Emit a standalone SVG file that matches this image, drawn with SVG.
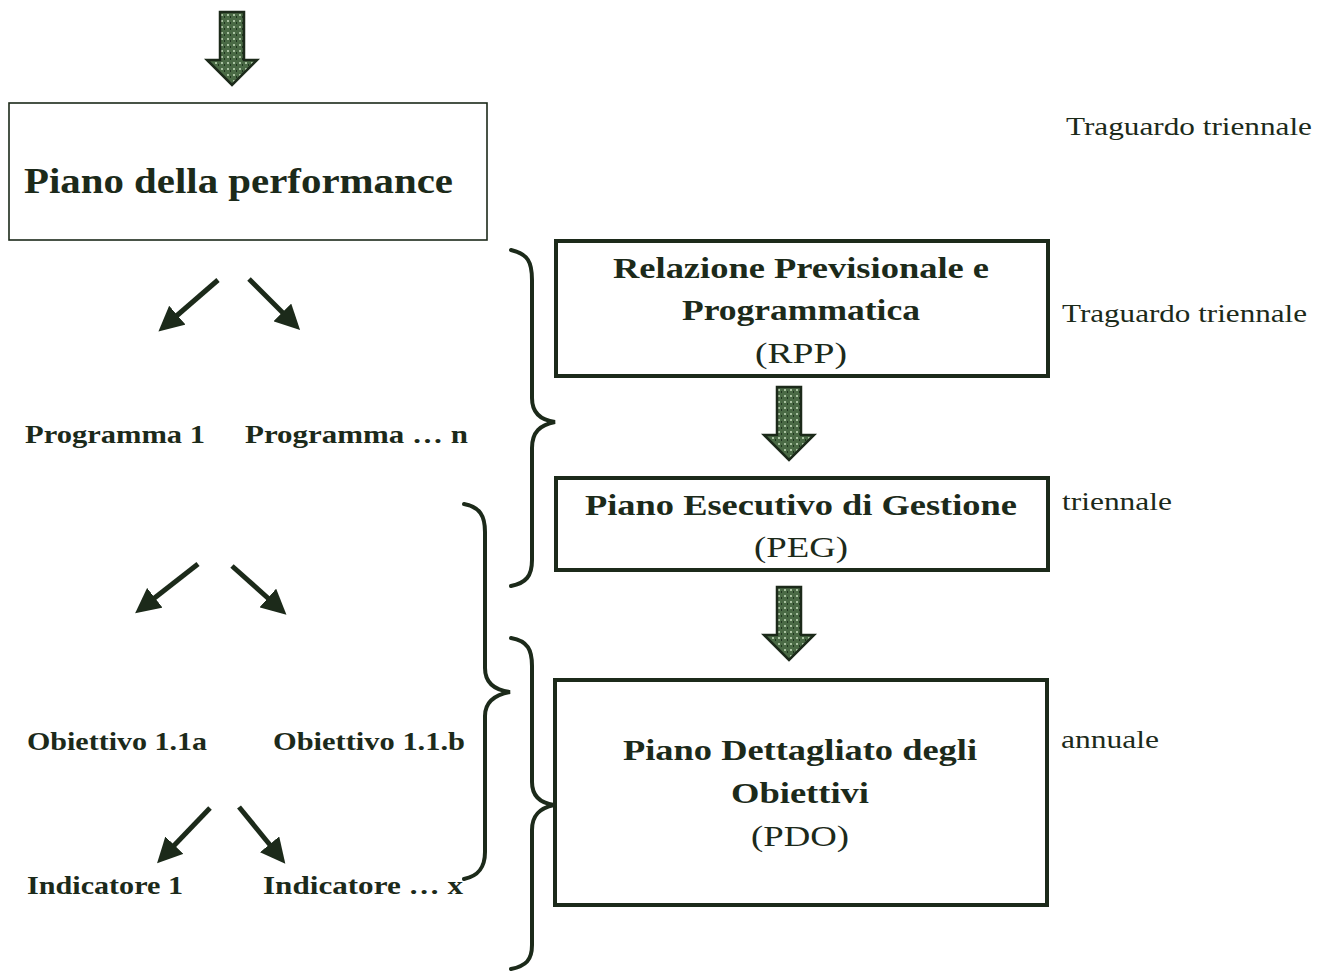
<svg xmlns="http://www.w3.org/2000/svg" width="1328" height="971" viewBox="0 0 1328 971">
<style>
text{font-family:"Liberation Serif","DejaVu Serif",serif;fill:#1c2a1a}
.b{font-weight:bold}
.lbl{font-size:26px;font-weight:bold}
.side{font-size:26px}
.box{fill:none;stroke:#1c2a1a}
.thin{stroke-width:1.6}
.thick{stroke-width:4}
.arr{stroke:#1c2a1a;stroke-width:5;fill:none;marker-end:url(#ah)}
.brace{fill:none;stroke:#1c2a1a;stroke-width:4;stroke-linecap:round}
</style>
<defs>
<marker id="ah" markerWidth="5" markerHeight="5" refX="3" refY="2.5" orient="auto" markerUnits="strokeWidth">
<path d="M0,0 L5,2.5 L0,5 Z" fill="#1c2a1a"/>
</marker>
<pattern id="tex" width="6" height="6" patternUnits="userSpaceOnUse">
<rect width="6" height="6" fill="#4a6a45"/>
<rect x="1" y="1" width="2" height="2" fill="#a8c0a0"/>
<rect x="4" y="3" width="1" height="2" fill="#203520"/>
</pattern>
<path id="bigarrow" d="M-12,-73 L12,-73 L12,-25 L25,-25 L0,0 L-25,-25 L-12,-25 Z" fill="url(#tex)" stroke="#1c2a1a" stroke-width="2.5" stroke-linejoin="miter"/>
</defs>

<g id="connectors">
<use href="#bigarrow" x="232" y="85"/>
<use href="#bigarrow" x="789" y="460"/>
<use href="#bigarrow" x="789" y="660"/>
<line class="arr" x1="218" y1="280" x2="166" y2="325"/>
<line class="arr" x1="249" y1="279" x2="293" y2="323"/>
<line class="arr" x1="198" y1="564" x2="143" y2="607"/>
<line class="arr" x1="232" y1="566" x2="279" y2="608"/>
<line class="arr" x1="210" y1="808" x2="164" y2="856"/>
<line class="arr" x1="239" y1="807" x2="279" y2="856"/>
<path class="brace" d="M511,250 C528,254 532,262 532,280 L532,398 C532,412 540,420 555,422 C540,425 532,432 532,448 L532,560 C532,576 526,583 511,586"/>
<path class="brace" d="M464,504 C480,507 485,516 485,532 L485,668 C485,682 494,690 510,692 C494,695 485,702 485,716 L485,852 C485,868 478,876 464,879"/>
<path class="brace" d="M511,638 C528,641 532,650 532,666 L532,782 C532,796 540,803 554,805 C540,808 532,815 532,830 L532,945 C532,960 526,966 511,969"/>
</g>

<g id="piano-performance">
<rect class="box thin" x="9" y="103" width="478" height="137"/>
<text class="b" x="24" y="193" font-size="36" textLength="429" lengthAdjust="spacingAndGlyphs">Piano della performance</text>
</g>

<g id="rpp">
<rect class="box thick" x="556" y="241" width="492" height="135"/>
<text class="b" x="801" y="278" font-size="30" text-anchor="middle" textLength="376" lengthAdjust="spacingAndGlyphs">Relazione Previsionale e</text>
<text class="b" x="801" y="320" font-size="30" text-anchor="middle" textLength="238" lengthAdjust="spacingAndGlyphs">Programmatica</text>
<text x="801" y="363" font-size="30" text-anchor="middle" textLength="92" lengthAdjust="spacingAndGlyphs">(RPP)</text>
</g>

<g id="peg">
<rect class="box thick" x="556" y="478" width="492" height="92"/>
<text class="b" x="801" y="515" font-size="30" text-anchor="middle" textLength="432" lengthAdjust="spacingAndGlyphs">Piano Esecutivo di Gestione</text>
<text x="801" y="557" font-size="30" text-anchor="middle" textLength="94" lengthAdjust="spacingAndGlyphs">(PEG)</text>
</g>

<g id="pdo">
<rect class="box thick" x="555" y="680" width="492" height="225"/>
<text class="b" x="800" y="760" font-size="30" text-anchor="middle" textLength="354" lengthAdjust="spacingAndGlyphs">Piano Dettagliato degli</text>
<text class="b" x="800" y="803" font-size="30" text-anchor="middle" textLength="138" lengthAdjust="spacingAndGlyphs">Obiettivi</text>
<text x="800" y="846" font-size="30" text-anchor="middle" textLength="98" lengthAdjust="spacingAndGlyphs">(PDO)</text>
</g>

<g id="side-labels">
<text class="side" x="1066" y="135" textLength="246" lengthAdjust="spacingAndGlyphs">Traguardo triennale</text>
<text class="side" x="1062" y="322" textLength="245" lengthAdjust="spacingAndGlyphs">Traguardo triennale</text>
<text class="side" x="1062" y="510" textLength="110" lengthAdjust="spacingAndGlyphs">triennale</text>
<text class="side" x="1061" y="748" textLength="98" lengthAdjust="spacingAndGlyphs">annuale</text>
</g>

<g id="programmi">
<text class="lbl" x="25" y="443" textLength="180" lengthAdjust="spacingAndGlyphs">Programma 1</text>
<text class="lbl" x="245" y="443" textLength="223" lengthAdjust="spacingAndGlyphs">Programma … n</text>
</g>

<g id="obiettivi">
<text class="lbl" x="27" y="750" textLength="180" lengthAdjust="spacingAndGlyphs">Obiettivo 1.1a</text>
<text class="lbl" x="273" y="750" textLength="192" lengthAdjust="spacingAndGlyphs">Obiettivo 1.1.b</text>
</g>

<g id="indicatori">
<text class="lbl" x="27" y="894" textLength="156" lengthAdjust="spacingAndGlyphs">Indicatore 1</text>
<text class="lbl" x="263" y="894" textLength="200" lengthAdjust="spacingAndGlyphs">Indicatore … x</text>
</g>
</svg>
